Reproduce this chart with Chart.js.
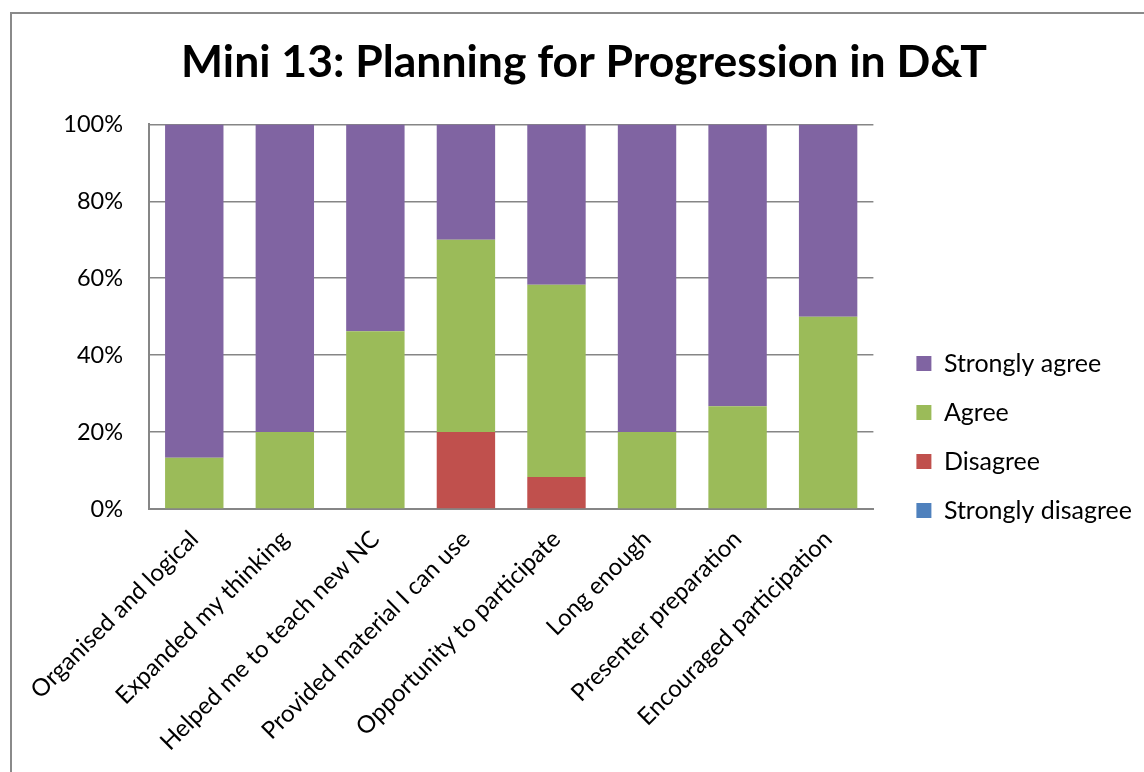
<!DOCTYPE html>
<html>
<head>
<meta charset="utf-8">
<script src="https://cdn.jsdelivr.net/npm/chart.js@4"></script>
<style>
  html, body { margin: 0; padding: 0; background: #fff; overflow: hidden; }
  body { width: 1144px; height: 772px; position: relative; }
  #frame { position: absolute; left: 10px; top: 12px; width: 1200px; height: 900px;
           border-left: 2px solid #8a8a8a; border-top: 2px solid #8a8a8a; }
  #wrap { position: absolute; left: 12px; top: 14px; width: 1144px; height: 846px; }
</style>
</head>
<body>
<div id="frame"></div>
<div id="wrap"><canvas id="chart"></canvas></div>
<script>
// survey statements
const categories = [
    "Organised and logical",
    "Expanded my thinking",
    "Helped me to teach new NC",
    "Provided material I can use",
    "Opportunity to participate",
    "Long enough",
    "Presenter preparation",
    "Encouraged participation"
];

// percentages per response
const stronglyDisagree = [0, 0, 0, 0, 0, 0, 0, 0];
const disagree = [0, 0, 0, 20, 8.3, 0, 0, 0];
const agree = [13.3, 20, 46.2, 50, 50, 20, 26.7, 50];
const stronglyAgree = [86.7, 80, 53.8, 30, 41.7, 80, 73.3, 50];

const yTicks = [0, 20, 40, 60, 80, 100];

const font = "Lato, 'Open Sans', sans-serif";
const gridColor = "#868686";

function generateChart() {
    let ctx = document.getElementById("chart").getContext("2d");
    new Chart(ctx, {
        type: "bar",
        data: {
            labels: categories,
            datasets: [
                {label: "Strongly disagree", data: stronglyDisagree, backgroundColor: "#4F81BD"},
                {label: "Disagree", data: disagree, backgroundColor: "#C0504D"},
                {label: "Agree", data: agree, backgroundColor: "#9BBB59"},
                {label: "Strongly agree", data: stronglyAgree, backgroundColor: "#8064A2"}
            ]
        },
        options: {
            responsive: true,
            maintainAspectRatio: false,
            animation: false,
            datasets: {bar: {barPercentage: 0.645, categoryPercentage: 1, borderWidth: 0}},
            layout: {padding: {left: 14, right: 14, top: 0, bottom: 0}},
            plugins: {
                title: {
                    display: true,
                    text: "Mini 13: Planning for Progression in D&T",
                    color: "#000",
                    font: {family: font, size: 44.5, weight: "bold", lineHeight: 1.2},
                    padding: {top: 22, bottom: 35}
                },
                legend: {
                    position: "right",
                    reverse: true,
                    labels: {
                        color: "#000",
                        font: {family: font, size: 25},
                        boxWidth: 15,
                        boxHeight: 15,
                        padding: 24
                    }
                },
                tooltip: {enabled: false}
            },
            scales: {
                x: {
                    stacked: true,
                    grid: {display: false},
                    border: {color: gridColor, width: 2},
                    ticks: {
                        color: "#000",
                        font: {family: font, size: 24},
                        maxRotation: 45,
                        minRotation: 45,
                        padding: 8
                    },
                    afterFit: s => { s.height = 351; }
                },
                y: {
                    stacked: true,
                    min: 0,
                    max: 100,
                    afterBuildTicks: s => { s.ticks = yTicks.map(v => ({value: v})); },
                    grid: {color: gridColor, lineWidth: 1.5, drawTicks: false},
                    border: {color: gridColor, width: 2},
                    ticks: {
                        color: "#000",
                        font: {family: font, size: 23.5},
                        padding: 26,
                        callback: v => v + "%"
                    },
                    afterFit: s => { s.width = 123; }
                },
                // spacer between plot and legend
                pad: {
                    position: "right",
                    display: false,
                    afterFit: s => { s.width = 19; }
                }
            }
        }
    });
}

generateChart();
</script>
</body>
</html>
